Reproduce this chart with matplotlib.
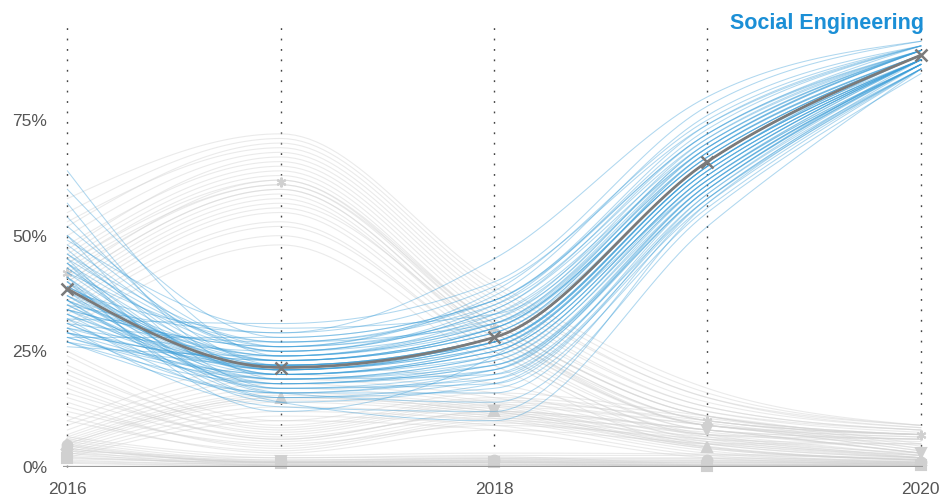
import numpy as np
import matplotlib
matplotlib.use("Agg")
import matplotlib.pyplot as plt

plt.rcParams['font.family'] = ['Liberation Sans', 'DejaVu Sans']

years = [2016, 2017, 2018, 2019, 2020]
x_labels = ["2016", "", "2018", "", "2020"]
y_ticks = [0, 25, 50, 75]
y_labels = ["0%", "25%", "50%", "75%"]
title = "Social Engineering"

# Highlighted series (Social Engineering): median and uncertainty draws (%)
se_median = [38.5, 21.5, 28, 66, 89]
se_2016 = [64, 60, 57, 54, 52, 50, 49, 47, 46, 45, 44, 43, 42, 41, 40, 40, 39, 38, 38, 37,
           36, 36, 35, 34, 34, 33, 32, 32, 31, 30, 30, 29, 29, 28, 28, 27, 27, 26, 35, 41,
           48, 44, 39, 36, 33, 31, 29, 42, 37, 34, 45, 40, 30, 28, 38, 35, 43, 33, 27, 50,
           41, 36, 32, 39, 46, 31, 37, 29, 44, 34]
se_2017 = [24, 28, 19, 22, 26, 17, 30, 21, 23, 15, 25, 20, 27, 18, 22, 16, 24, 21, 29, 19,
           23, 14, 20, 26, 22, 17, 31, 21, 18, 25, 13, 23, 20, 28, 19, 22, 16, 24, 21, 12,
           25, 20, 23, 18, 22, 27, 16, 21, 24, 19, 26, 14, 22, 20, 17, 29, 23, 21, 18, 25,
           20, 24, 15, 22, 27, 19, 21, 23, 16, 26]
se_2018 = [30, 36, 22, 27, 38, 19, 33, 26, 29, 17, 35, 25, 31, 21, 28, 14, 32, 27, 45, 23,
           30, 10, 24, 37, 28, 18, 40, 26, 22, 34, 12, 29, 25, 36, 20, 28, 16, 31, 27, 24,
           31, 26, 29, 23, 27, 35, 20, 28, 33, 24, 32, 18, 27, 25, 21, 39, 30, 28, 22, 34,
           26, 31, 19, 28, 36, 24, 27, 30, 21, 33]
se_2019 = [67, 72, 60, 65, 75, 58, 70, 64, 68, 56, 73, 63, 69, 61, 66, 55, 71, 65, 80, 62,
           67, 52, 63, 76, 66, 59, 78, 64, 61, 72, 57, 68, 63, 74, 60, 66, 58, 69, 65, 62,
           68, 64, 66, 61, 65, 71, 58, 66, 69, 62, 70, 57, 65, 63, 60, 74, 67, 66, 60, 70,
           64, 68, 59, 66, 72, 62, 65, 67, 61, 69]
se_2020 = [89, 90, 88, 89, 91, 87, 90, 88, 89, 86, 91, 88, 90, 87, 89, 85, 90, 89, 92, 88,
           89, 86, 88, 91, 89, 87, 92, 88, 87, 90, 86, 89, 88, 91, 87, 89, 86, 90, 88, 88,
           89, 88, 89, 87, 88, 90, 86, 89, 90, 87, 90, 86, 88, 88, 87, 91, 89, 89, 87, 90,
           88, 89, 86, 88, 91, 87, 88, 89, 87, 90]

# Other (grey) series: medians (marker positions) and draws (%)
ast_median = [42, 61.5, 30, 10, 7]
ast_2016 = [42, 36, 48, 40, 31, 52, 44, 38, 58, 34, 46, 41, 30, 50, 39, 43, 35, 55, 45, 37,
            40, 47, 33, 53, 44]
ast_2017 = [61, 56, 66, 60, 50, 70, 63, 58, 72, 53, 65, 62, 48, 68, 59, 61, 55, 71, 64, 57,
            60, 67, 52, 69, 62]
ast_2018 = [30, 27, 34, 29, 24, 38, 31, 28, 40, 25, 33, 30, 22, 36, 28, 31, 26, 39, 32, 29,
            29, 35, 25, 37, 31]
ast_2019 = [10, 8, 13, 9, 6, 15, 11, 9, 17, 7, 12, 10, 5, 14, 9, 11, 8, 16, 12, 9,
            10, 13, 7, 15, 11]
ast_2020 = [7, 6, 8, 7, 5, 9, 7, 6, 9, 5.5, 8, 7, 5, 8.5, 6.5, 7, 6, 9, 7.5, 6.5,
            7, 8, 6, 8.5, 7]

tri_median = [5, 15, 12, 4.3, 1.5]
tri_2016 = [5, 3, 8, 4, 10, 2, 6, 7, 3.5, 9, 5.5, 4.5, 2.5, 6.5, 5]
tri_2017 = [15, 12, 19, 14, 22, 10, 16, 18, 13, 20, 15.5, 14.5, 11, 17, 15]
tri_2018 = [12, 10, 15, 11, 18, 8, 13, 14, 10.5, 16, 12.5, 11.5, 9, 13.5, 12]
tri_2019 = [4.3, 3, 6, 4, 7, 2, 5, 5.5, 3.5, 6.5, 4.5, 4, 2.5, 5, 4.3]
tri_2020 = [1.5, 1, 2.5, 1.5, 3, 0.5, 2, 2, 1, 2.5, 1.5, 1.5, 0.8, 2, 1.5]

vt_median = [2.5, 1.2, 12, 8, 3]
vt_2016 = [18, 14, 22, 12, 25, 16, 20, 11, 24, 15, 19, 13, 21, 17, 10]
vt_2017 = [6, 4, 8, 5, 10, 6.5, 7, 3, 9, 5.5, 7.5, 4.5, 8.5, 6, 3.5]
vt_2018 = [12, 10, 14, 9, 16, 11.5, 13, 8, 15, 11, 13.5, 10.5, 14.5, 12, 9.5]
vt_2019 = [8, 6.5, 10, 6, 11, 8, 9, 5, 10.5, 7, 9, 7.5, 9.5, 8, 5.5]
vt_2020 = [3, 2.5, 4, 2, 5, 3, 3.5, 2, 4.5, 2.5, 3.5, 3, 4, 3, 2]

ci_median = [4.7, 1, 1.5, 1.5, 1]
ci_2016 = [4.7, 3.5, 6, 4, 5.5, 3, 5, 6.5, 4.5, 4]
ci_2017 = [1, 0.5, 2, 1, 1.5, 0.3, 1.2, 2.5, 0.8, 1]
ci_2018 = [1.5, 1, 2.5, 1.2, 2, 0.5, 1.8, 3, 1, 1.5]
ci_2019 = [1.5, 1, 2.5, 1.2, 2, 0.6, 1.8, 2.8, 1, 1.4]
ci_2020 = [1, 0.6, 1.6, 0.8, 1.3, 0.4, 1.1, 1.8, 0.7, 1]

sq_median = [2, 0.8, 1, 0.3, 0.5]
sq_2016 = [2, 1.5, 3, 1, 2.5, 0.8, 2.2, 1.8, 3.5, 1.2]
sq_2017 = [1, 0.5, 1.5, 0.3, 1.2, 0.2, 0.8, 1, 2, 0.6]
sq_2018 = [1, 0.6, 1.8, 0.4, 1.4, 0.3, 0.9, 1.2, 2.2, 0.7]
sq_2019 = [0.3, 0.2, 0.6, 0.1, 0.5, 0.1, 0.3, 0.4, 0.8, 0.2]
sq_2020 = [0.5, 0.3, 0.8, 0.2, 0.6, 0.2, 0.4, 0.5, 1.0, 0.3]


def monotone_x(xs, ys, n=30):
    xs = np.asarray(xs, float)
    ys = np.asarray(ys, float)
    h = np.diff(xs)
    s = np.diff(ys) / h
    m = np.zeros_like(ys)
    for i in range(1, len(ys) - 1):
        s0, s1 = s[i - 1], s[i]
        p = (s0 * h[i] + s1 * h[i - 1]) / (h[i - 1] + h[i])
        m[i] = (np.sign(s0) + np.sign(s1)) * min(abs(s0), abs(s1), 0.5 * abs(p))
    m[0] = (3 * s[0] - m[1]) / 2
    m[-1] = (3 * s[-1] - m[-2]) / 2
    ox, oy = [], []
    for i in range(len(xs) - 1):
        t = np.linspace(0, 1, n, endpoint=(i == len(xs) - 2))
        h00 = 2 * t**3 - 3 * t**2 + 1
        h10 = t**3 - 2 * t**2 + t
        h01 = -2 * t**3 + 3 * t**2
        h11 = t**3 - t**2
        ox.append(xs[i] + t * h[i])
        oy.append(h00 * ys[i] + h10 * h[i] * m[i] + h01 * ys[i + 1] + h11 * h[i] * m[i + 1])
    return np.concatenate(ox), np.concatenate(oy)


fig = plt.figure(figsize=(9.43, 4.97), dpi=100)
ax = fig.add_axes([62.7 / 943, 30 / 497, 860.3 / 943, 447 / 497])
ax.set_xlim(2016 - 0.022, 2020 + 0.01)
ax.set_ylim(0, 96.6)
for sp in ax.spines.values():
    sp.set_visible(False)

# dotted year guides
for yv in years:
    ax.plot([yv, yv], [0, 96.6], color='#444444', lw=1.0, linestyle=(0, (1.3, 6.2)),
            zorder=1, clip_on=False)

grey_groups = [
    (ast_2016, ast_2017, ast_2018, ast_2019, ast_2020, ast_median, (6, 2, 0)),
    (tri_2016, tri_2017, tri_2018, tri_2019, tri_2020, tri_median, '^'),
    (vt_2016, vt_2017, vt_2018, vt_2019, vt_2020, vt_median, 'v'),
    (ci_2016, ci_2017, ci_2018, ci_2019, ci_2020, ci_median, 'o'),
    (sq_2016, sq_2017, sq_2018, sq_2019, sq_2020, sq_median, 's'),
]
grey = '#d2d2d2'
for g in grey_groups:
    for d in zip(*g[:5]):
        px, py = monotone_x(years, d)
        ax.plot(px, py, color=grey, lw=0.8, alpha=0.45, zorder=2)
    ax.plot(years, g[5], linestyle='none', marker=g[6], ms=7, color='#d0d0d0',
            mec='#d0d0d0', mew=1.5, zorder=3, clip_on=False)

for d in zip(se_2016, se_2017, se_2018, se_2019, se_2020):
    px, py = monotone_x(years, d)
    ax.plot(px, py, color='#3a9dd8', lw=0.75, alpha=0.4, zorder=4)

px, py = monotone_x(years, se_median)
ax.plot(px, py, color='#7a7a7a', lw=2.0, zorder=5)
ax.plot(years, se_median, linestyle='none', marker='x', ms=9, mew=1.8, color='#7a7a7a',
        zorder=6, clip_on=False)

ax.axhline(0, color='#9a9a9a', lw=1.6, zorder=7)

ax.set_xticks(years)
ax.set_xticklabels(x_labels)
ax.set_yticks(y_ticks)
ax.set_yticklabels(y_labels)
ax.tick_params(axis='both', length=0, labelsize=12.5, labelcolor='#555555')
ax.tick_params(axis='y', pad=11)
ax.tick_params(axis='x', pad=11)

fig.text(924 / 943, 1 - 23 / 497, title, ha='right', va='center', fontsize=15.5,
         fontweight='bold', color='#1b8fd6')

fig.savefig('out.png', dpi=100)
